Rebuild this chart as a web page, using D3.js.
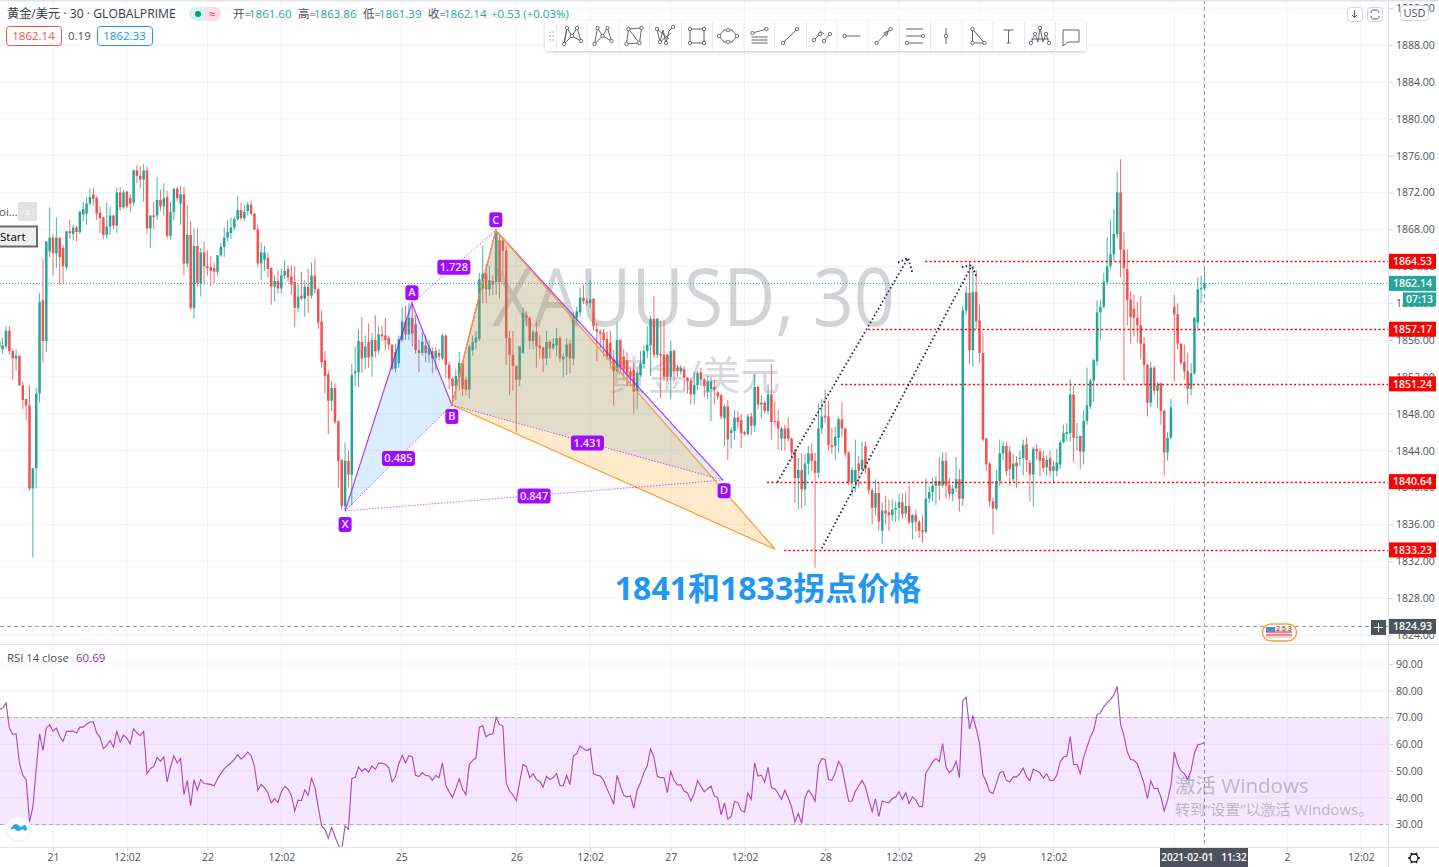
<!DOCTYPE html>
<html><head><meta charset="utf-8">
<script src="https://cdn.jsdelivr.net/npm/d3@7/dist/d3.min.js"></script>
<style>
html,body{margin:0;padding:0;background:#fff;overflow:hidden}
svg{display:block}
text{font-family:"Open Sans","Noto Sans CJK SC",sans-serif}
</style></head><body><svg id="c" width="1439" height="867"></svg>
<script>
const opens=[1855.8,1855,1855.3,1857,1854.8,1854,1854.3,1851.1,1849.6,1848.9,
1839.9,1842.1,1850.2,1860.3,1855.9,1865.6,1867.1,1865.4,1867.1,1866,
1863.9,1867.8,1867.5,1868.2,1867.7,1869.6,1869.7,1870.8,1871.8,1871.4,
1869.8,1869.3,1867.4,1868.3,1869.5,1868.4,1872,1870.4,1872.1,1871.4,
1870.9,1874.4,1873.8,1873.4,1874.4,1868.1,1869.5,1869.5,1871.2,1870.5,
1871.5,1867.3,1869.9,1872.4,1870.8,1871.8,1864.3,1867.4,1859.5,1866.2,
1862.1,1865.5,1864,1863.9,1863.8,1863.4,1865.2,1866.1,1867.1,1867.6,
1868.2,1869.1,1870.1,1869.2,1870,1870.7,1869.7,1868,1864.3,1864.7,
1864.9,1863.8,1861.8,1862.4,1861.6,1863,1863.7,1862.9,1862.3,1859.5,
1860.8,1860.5,1861.8,1860.8,1863,1861.5,1858,1853.8,1852.3,1849.4,
1850.8,1847.2,1843,1838,1842.9,1841.4,1852.4,1852.5,1855.8,1854.1,
1855.8,1854.2,1856,1854.9,1856.6,1856.5,1856.2,1855.5,1852.9,1853.5,
1856,1858,1856.6,1858.4,1857.7,1854.9,1854.6,1855.4,1854.4,1854.8,
1854,1854.6,1854,1856.5,1853.3,1851.8,1851,1852,1853.5,1851.7,
1850.6,1854.9,1855.7,1856.1,1861.6,1863.2,1861.5,1862.4,1862.3,1866.8,
1866.8,1865.7,1856.2,1854.4,1853.2,1851.7,1854.6,1858.7,1858.4,1855.9,
1856.9,1855.4,1855.2,1854,1855.8,1855.1,1855.4,1856.2,1853.9,1854.2,
1855.6,1854,1858.4,1859,1860.6,1860.2,1860,1860.5,1857.2,1856.9,
1856.8,1856.1,1855.7,1853.9,1852.6,1856,1854.2,1853.8,1852.6,1852.8,
1850.4,1852.2,1853.4,1854.8,1855.4,1858.3,1854.4,1854.5,1854.4,1854.4,
1852,1854.8,1853,1852.6,1852.8,1851.9,1851.6,1850.1,1851.1,1852.5,
1851.7,1850.4,1850.7,1850.9,1850.3,1850,1847.5,1848.8,1845.9,1846.1,
1847.6,1847.3,1846,1845.8,1847.7,1846.7,1850.9,1849,1849.2,1848.3,
1850.1,1847.2,1847.2,1845.3,1846.4,1846.4,1845.3,1843.9,1841,1841.9,
1839.8,1842.6,1843.7,1842.9,1841.6,1846.4,1847.8,1847.7,1844.6,1844.5,
1845.4,1847.4,1846.4,1843.8,1840.6,1840.6,1842.6,1842,1844.5,1842.1,
1839.7,1837.8,1839.4,1835.3,1837.5,1837.3,1837,1837.6,1837.8,1838.4,
1837.2,1838,1836.2,1837,1836.3,1835.4,1835.2,1838.8,1839.5,1840.2,
1840.7,1840.2,1842.9,1840.3,1839.3,1839.9,1840.9,1838.8,1859.2,1861.1,
1854.9,1861.2,1858.1,1854.6,1845.3,1842.6,1838.5,1837.7,1840.7,1843.7,
1844.5,1843.9,1840.9,1842.7,1843.1,1843.2,1844.7,1842.7,1841.4,1844.2,
1843.9,1843.2,1842.2,1843.2,1841.8,1841.8,1842.5,1844.9,1845.8,1845.9,
1850.1,1845.4,1845.6,1843.9,1847.2,1848.8,1851.6,1853.7,1859,1859.6,
1862.3,1864,1865.3,1867.5,1872,1865.8,1863.7,1860.4,1859.4,1858.4,
1857.6,1855.6,1853.3,1849.2,1853,1850.5,1851.3,1848.3,1843.8,1845.4,
1859.6,1858.8,1855.6,1853.6,1852.6,1850.7,1852.4,1857.9,1861.5,1861.6];
const highs=[1856,1856.3,1857.5,1857.5,1855,1855,1854.3,1851.5,1849.6,1851.1,
1842.1,1850.8,1861.1,1864.8,1866.7,1870.4,1867.5,1869.3,1867.1,1866.3,
1867.8,1869,1868.5,1868.4,1870,1871,1871.5,1872.4,1872.5,1871.6,
1870.5,1869.4,1870.9,1870.5,1869.6,1872.5,1872.6,1872.3,1872.2,1871.8,
1874.5,1875,1874.9,1875.1,1874.8,1869.5,1871,1873.7,1872.3,1873,
1872.2,1871,1872.5,1872.6,1872.7,1872.6,1870.6,1868.9,1868.1,1868.1,
1866,1866.7,1865.7,1865.1,1864.4,1865.2,1866.5,1868.2,1869,1869.3,
1869.4,1871.6,1870.9,1870.6,1871,1871.1,1869.8,1868.5,1866.6,1866.2,
1865.5,1863.9,1863,1863.6,1863.7,1864.7,1864.1,1864.1,1864,1862.1,
1863.4,1862.5,1863.7,1864.4,1864.8,1861.7,1859.2,1854.8,1852.7,1851.5,
1851.3,1847.3,1843,1844.9,1844,1853.4,1855.3,1857.2,1858.5,1856.5,
1857.8,1856.8,1858.7,1857.5,1857.5,1858.4,1856.5,1855.5,1855.6,1856.5,
1859.5,1859.7,1860,1859.9,1858.7,1856,1856.8,1856.5,1856,1855.2,
1855.2,1855,1856.7,1856.6,1853.6,1852,1852.9,1854.7,1853.6,1852,
1855.5,1856.5,1857,1863.3,1866.2,1864.3,1864,1863,1868,1867.5,
1867,1866.2,1857,1857,1853.2,1855.3,1859.5,1859.1,1858.6,1857.1,
1858,1856.5,1855.3,1857,1856,1856.2,1857.3,1856.4,1854.6,1856.2,
1856,1859,1859.6,1861.7,1862,1860.5,1862.5,1860.5,1857.9,1857.2,
1857.2,1856.9,1857,1854.9,1857.9,1856.1,1855,1854.7,1853,1853.6,
1852.9,1854.8,1855.4,1857.5,1858.6,1860.8,1858.4,1858.1,1858.1,1854.5,
1855.9,1855,1853.3,1853.3,1853.2,1852,1851.9,1852.6,1852.6,1853,
1851.9,1852.1,1852,1851.7,1850.5,1850.2,1849,1849.5,1846.5,1848.4,
1848.3,1848,1846.1,1848,1848.1,1852.3,1851,1850,1849.4,1851.2,
1853.4,1849.3,1848.4,1846.6,1846.8,1847.6,1845.4,1844.2,1843.2,1843.7,
1843.6,1844.5,1844.8,1843.8,1849.2,1849.6,1850.6,1849.4,1846.5,1846.6,
1847.6,1849.3,1846.5,1843.9,1842.2,1845.2,1843.4,1845,1845,1842.2,
1839.9,1840.9,1840.5,1838.4,1839.1,1838.7,1838.7,1838.5,1839.3,1839.4,
1839.5,1840.2,1837.1,1837.6,1836.5,1837,1841,1840.1,1841.1,1841.2,
1843.3,1843.8,1843.8,1841,1840.3,1843.3,1842,1859.7,1861.8,1864.4,
1864,1863.6,1859.8,1856.8,1845.4,1842.8,1838.9,1841.9,1845.2,1845,
1845,1844.5,1843.7,1843.4,1844,1845.2,1845.4,1843,1844.4,1844.7,
1844.3,1844,1843.5,1844,1842.8,1844.2,1845.1,1846.8,1847,1851.7,
1851,1847,1845.6,1848.4,1853,1851.8,1854,1860.3,1860.3,1863.3,
1867.2,1869,1870.2,1874.2,1875.6,1867.7,1865.8,1861.3,1860.9,1860.1,
1860.8,1856.3,1853.4,1853.6,1853.2,1851.4,1851.4,1848.5,1846,1849.6,
1860.9,1860,1855.7,1855.5,1854.6,1853.5,1858.5,1862.8,1863,1863.86];
const lows=[1855,1854.5,1855,1854.4,1851.7,1852.7,1851,1848.5,1847.3,1839.7,
1832.4,1839.9,1849.2,1853.6,1854.7,1865,1863,1863.8,1862,1862.1,
1863.6,1867,1866.8,1866.7,1867.5,1868.9,1868.5,1870.6,1870.6,1869,
1867.6,1867,1867,1867.4,1868,1867.6,1870,1870.2,1870.3,1869.9,
1870.6,1873,1872.5,1871,1867.5,1866,1868,1869,1870,1869.5,
1867,1866.9,1869,1871,1868.5,1863,1863.9,1859.2,1858.3,1861.8,
1860.7,1862,1863,1861.8,1862.2,1863,1865,1865,1866.7,1867,
1867.9,1869,1869,1868.9,1869.5,1869.5,1867.9,1863.9,1862.5,1863.5,
1862.8,1859.8,1860.2,1861,1861,1862.6,1862.3,1860.9,1857.4,1859,
1860.3,1858.5,1858.9,1860.5,1861,1857.2,1853,1850.2,1845.8,1848.3,
1846.9,1840,1837.6,1837.5,1840,1838,1851,1850.9,1852.4,1852.8,
1853,1852,1854.1,1854.5,1855.9,1854.9,1854.9,1852.7,1852.5,1853,
1855.8,1856,1856,1855.3,1854.5,1852.5,1854.3,1853.6,1853.5,1852.4,
1852.7,1853.8,1853.8,1851.9,1850.7,1849.4,1849.5,1850.5,1849.9,1850,
1849.7,1854.3,1855,1855.9,1860,1860,1860.8,1860.9,1860.9,1860.5,
1863,1853.3,1850,1850.5,1846,1851,1854.5,1857.5,1855,1855,
1853,1854,1852.5,1853.3,1854,1854.9,1854.2,1853.6,1851.9,1852.2,
1852.4,1853.3,1857.7,1858.5,1859.9,1859.7,1859.5,1857,1853.7,1855.1,
1854.2,1853.8,1853.2,1848.9,1852.5,1852.4,1851.8,1851,1851,1848,
1848.5,1852,1853,1854,1852.1,1854,1854,1849.7,1851.5,1851.5,
1849.6,1851.5,1852,1852.2,1850.5,1850.2,1849,1849,1850.5,1851,
1849.8,1849.6,1847.2,1849,1849.5,1847.4,1844.5,1843,1844.2,1845.2,
1846.4,1844.3,1845.6,1845.6,1845.7,1846,1848.5,1847.5,1848,1847.9,
1845.2,1846.7,1844.1,1844,1844,1845,1843,1838.3,1837.6,1837.7,
1838,1841.4,1841.8,1831.3,1841,1845.8,1847,1844,1843.7,1843,
1843.8,1845.5,1843.3,1840.2,1839,1839.5,1840,1841.6,1841.5,1839.2,
1836,1837,1835.3,1833.9,1836,1835.3,1836.4,1836.3,1836.4,1836.6,
1836.7,1836,1834.4,1835.2,1834.5,1834,1835,1838.3,1838.5,1838.1,
1838.6,1840,1838.8,1838.8,1838.5,1839.5,1837.4,1838,1858.7,1853.4,
1853.1,1857.2,1853.5,1845,1841.8,1837.9,1834.9,1837.5,1840.2,1843,
1841.2,1840.2,1840.5,1840,1842.4,1841.3,1841.7,1838.5,1837.9,1843,
1841.2,1841.7,1841.3,1841.2,1840.5,1841.2,1842,1844.8,1845,1845,
1842.7,1844,1842,1842.5,1846.8,1848.5,1849.3,1853.2,1856.1,1859.4,
1862,1863.7,1864.6,1867,1862.8,1851.6,1857.6,1855.6,1856.4,1855.7,
1853.9,1851.1,1847.7,1848.7,1850,1848.7,1846.8,1841.3,1842.9,1845.2,
1851.5,1855,1853.3,1851.7,1849,1850,1852.2,1857,1860,1861.39];
const closes=[1855.2,1855.4,1857,1854.8,1854,1854.3,1851.1,1849.5,1848.9,1839.9,
1842.1,1850.2,1860.1,1855.9,1866.7,1867.1,1865.4,1867.1,1865,1864,
1867.8,1867.6,1868.2,1867.7,1869.9,1870.2,1870.8,1871.5,1871.3,1869.7,
1869.2,1867.4,1868.3,1869.5,1868.4,1872,1870.4,1872,1870.5,1870.8,
1874.4,1873.8,1873.4,1874.4,1868.1,1869.5,1869.3,1871.2,1870.5,1871.4,
1867.3,1869.9,1872.4,1871.4,1871.8,1864.3,1867.4,1859.5,1866.2,1862.2,
1865.5,1864,1863.8,1863.5,1863.4,1865.2,1866.1,1867.1,1867.7,1868.2,
1869.1,1870.1,1869.2,1869.9,1870.7,1869.7,1868,1864.3,1865.5,1865.5,
1863.7,1861.8,1862.4,1861.6,1863,1863.5,1862.8,1862,1859.5,1860.7,
1860.5,1861.8,1860.8,1863,1861.5,1857.9,1853.6,1852.1,1849.4,1850.8,
1847.1,1842.9,1838,1842.9,1841.4,1852.2,1852.6,1855.9,1854,1855.3,
1854.1,1856,1854.8,1856.6,1856.4,1856,1855.5,1852.9,1854.7,1856.1,
1858,1856.6,1858.4,1856.7,1854.9,1854.6,1855.8,1854.6,1855.1,1854,
1854.8,1854.2,1856.5,1853.3,1851.8,1851,1852.1,1853.5,1850.7,1850.6,
1855.3,1855.8,1856.3,1862.6,1863.2,1861.5,1862.5,1862,1867.6,1862.3,
1865.7,1856.2,1854.4,1853.2,1851.7,1855.3,1858.9,1858.4,1855.9,1856.9,
1855.3,1855.1,1854,1855.8,1855.1,1855.6,1856.2,1854,1854.2,1855.5,
1854,1858.4,1859.1,1860.6,1860.2,1860,1860.4,1857.5,1856.9,1856.7,
1856,1854.2,1853.9,1852.6,1856,1853.1,1852.8,1852.4,1852,1850.4,
1852.4,1853.5,1854.8,1855.5,1858.3,1854.4,1858.3,1854.3,1852,1852,
1854.8,1852.6,1852.6,1853,1851.9,1851.5,1850.1,1851.1,1852.4,1851.7,
1851,1851.5,1851.5,1850.6,1849.9,1847.7,1848.8,1845.2,1846.2,1847.6,
1847.1,1845.9,1845.8,1847.7,1846.7,1850.9,1849,1849.2,1848.3,1850.1,
1847.1,1847.1,1846.4,1846.4,1845.3,1845.3,1843.8,1841,1841.9,1839.8,
1842.6,1843.7,1842.9,1841.6,1846.4,1847.7,1847.6,1844.6,1844.4,1845.5,
1847.4,1846.4,1843.7,1840.6,1841.9,1841.9,1841.8,1843,1842,1839.7,
1837.8,1839.4,1836.3,1837.5,1837.2,1837,1837.6,1837.8,1838.4,1837.1,
1838,1836.2,1837,1836.3,1835.3,1835.2,1838.8,1839.5,1840.2,1840.7,
1840.2,1842.9,1840.2,1839.3,1839.9,1840.9,1838.8,1859.2,1861.1,1854.9,
1861.2,1858,1854.6,1845.2,1842.5,1838.5,1837.7,1840.7,1843.7,1844.5,
1841.8,1842,1842.6,1842.3,1843.2,1844.6,1843,1841.4,1844.2,1843.9,
1842.9,1842.1,1843,1841.8,1842.3,1842.7,1844.9,1845.9,1846,1850.1,
1845.4,1845.5,1843.9,1847.2,1848.9,1851.6,1853.8,1859,1859.6,1862.3,
1864,1865.3,1867.5,1872,1865.8,1863.8,1860.3,1858.5,1858.4,1857.6,
1855.6,1853.3,1849.2,1853,1850.5,1851.1,1848.3,1843.8,1845.4,1848.7,
1858.8,1855.6,1853.5,1852.6,1850.7,1852.4,1858.4,1861.5,1861.65,1862.14];
const rsi=[72.9,73.5,75.5,66.1,63.7,63.9,53,48.4,46.8,31,
36.6,50.9,63.9,57.7,66.1,67.3,64.9,66,63,61,
64.8,64.8,64.9,64.2,66.4,66.4,67.5,68.3,68.4,64.2,
62.7,58.3,59.6,61.4,58.9,64.8,60.8,63.4,62.3,60.2,
65.8,64.2,63.2,64.8,49,50.9,51.7,55,53.7,55.2,
45.9,51.5,55.7,53,54.7,41.2,46.5,37,46.8,42.8,
46.8,45.3,45.2,45,44.5,47.1,49,50.9,52,53,
54.3,56.1,54.5,55.5,57.1,55.8,51.7,42.8,45,43.8,
41.8,38.1,39.7,38.3,42.2,44.2,43.2,40.9,35,39.1,
38.9,43,40.9,47.3,44,36.6,29.5,28.1,24.8,28.9,
25.4,22.3,20.4,29.5,28.3,47.1,47.6,51.5,49.9,50.9,
49.5,51.9,50.6,53,52.9,52.5,51.2,46,47.8,52.7,
55.8,53,55.7,55.3,48.4,47.9,49.4,48.3,48.2,46.5,
48.3,47.5,53.1,44.7,42.2,40.2,43.4,47.1,43.2,41.2,
52.5,54,55,66.4,
66.9,62.8,63.7,63.8,70.1,67.4,66.8,45.5,42.5,41.1,
38.9,45.9,52.4,51.7,47.5,49,46.8,46.1,44,48,
46.8,47.5,49,44.5,44.5,48.4,44.9,55.6,56.5,59.4,
58.3,57.6,58.4,49,48.4,48.1,46.5,43.4,40.7,37.6,
48.4,44.4,40.9,40.3,40.7,36.1,42.8,45.7,49.4,51.9,
58.3,55.2,48,47.5,47.6,41.9,49.8,46.5,44.7,44.9,
42.5,41.8,38.8,41.6,46.4,44.3,42.2,43.4,44.3,40.6,
40.1,33.6,38.1,32,32.9,38.7,38.1,35.1,34.7,41.8,
39.3,53.1,48.1,48.4,45.8,51.4,43.7,43.4,41.6,39.4,
42.8,39.9,36.6,31,34.1,30.4,40.1,42.8,41.3,38.7,
52,54.6,54.3,46.8,46.5,49.3,53.6,51.5,45,38.7,
38.8,42.4,44.4,46.5,44,39.1,34.8,39.6,32.9,38.8,
38.3,38.2,39.7,40.3,42.2,39.4,41.9,37.8,40.3,39.1,
36.8,36.6,49.3,51.2,53.4,54.7,53.5,60.2,51.5,49.4,
50.6,53.6,47.5,
76.3,77.6,65.8,70.5,65.8,60.2,48.6,45.9,42.2,41.6,
45.3,49.3,49.8,46.5,45.9,47.8,47.8,49,51.1,47.8,
46.3,50.7,50,49.3,47.4,49,46.4,46.5,48.4,53.4,
55.2,55.5,62.9,52.4,52.5,49,55.2,58.9,62.7,65.2,
71,71.7,74.1,75.5,76.7,78.4,81.6,67.4,63.3,57.1,
54.3,54,52.7,49,45.3,39.7,46.3,43.3,43.7,40.3,
35.1,39.1,44.7,57.1,52.5,50,49,46.8,50.2,56.7,
59.8,60.1,60.69];
const priceTicks=[1892,1888,1884,1880,1876,1872,1868,1864,1860,1856,1852,1848,1844,1840,1836,1832,1828,1824];
const rsiTicks=[90,80,70,60,50,40,30];
const timeTickBars=[16,38,62,84,119.7,154,176,200,222,246,268,292,314,350,383.6,405.6];
const timeTickLabels=["21","12:02","22","12:02","25","26","12:02","27","12:02","28","12:02","29","12:02","1","2","12:02"];
const levelPrices=[1864.53,1857.17,1851.24,1840.64,1833.23];
const levelStartBars=[275.8,258.8,250.7,228.7,233.8];
const patternNames=["X","A","B","C","D"];
const patternBars=[103,122.9,134.8,147.9,215.6];
const patternPrices=[1837.46,1860,1848.95,1867.9,1840.8];
const projectionBar=231.1, projectionPrice=1833.3;
const ratioLabels=["1.728","0.485","1.431","0.847"];

const W=1439,H=867,AX=1388,TOP=644,BOT=847;
const x=d3.scaleLinear().domain([0,359]).range([-0.7,1204.5]);
const y=d3.scaleLinear().domain([1888,1824]).range([45,635]);
const yr=d3.scaleLinear().domain([90,30]).range([664,824.5]);
const svg=d3.select("#c");
const defs=svg.append("defs");
defs.append("clipPath").attr("id","pc").append("rect").attr("width",AX).attr("height",TOP);
defs.append("clipPath").attr("id","rc").append("rect").attr("y",TOP).attr("width",AX).attr("height",BOT-TOP);
const f=defs.append("filter").attr("id","sh").attr("x","-5%").attr("y","-30%").attr("width","110%").attr("height","170%");
f.append("feDropShadow").attr("dx",0).attr("dy",1).attr("stdDeviation",1.5).attr("flood-color","#000").attr("flood-opacity",.22);

const GRID="#f0f3fa",TXT="#4c525e",GREEN="#26a69a",RED="#ef5350",VIO="#9900ff";
// grid
const grid=svg.append("g");
grid.selectAll(".v").data(timeTickBars).join("line").attr("x1",d=>x(d)).attr("x2",d=>x(d)).attr("y1",0).attr("y2",BOT).attr("stroke",GRID);
grid.selectAll(".h").data(priceTicks).join("line").attr("x1",0).attr("x2",AX).attr("y1",d=>y(d)).attr("y2",d=>y(d)).attr("stroke",GRID).attr("clip-path","url(#pc)");
grid.selectAll(".r").data(rsiTicks).join("line").attr("x1",0).attr("x2",AX).attr("y1",d=>yr(d)).attr("y2",d=>yr(d)).attr("stroke",GRID);

// watermark
svg.append("text").attr("x",492).attr("y",326).attr("font-size",81).attr("textLength",403).attr("lengthAdjust","spacingAndGlyphs").attr("fill","rgba(120,123,134,.33)").text("XAUUSD, 30");
svg.append("text").attr("x",608).attr("y",390).attr("font-size",40).attr("textLength",172).attr("lengthAdjust","spacingAndGlyphs").attr("fill","rgba(120,123,134,.3)").text("黄金/美元");

// candles
const bars=d3.range(closes.length);
const pane=svg.append("g").attr("clip-path","url(#pc)");
const col=i=>closes[i]>=opens[i]?GREEN:RED;
pane.append("g").selectAll("line").data(bars).join("line").attr("x1",i=>x(i)).attr("x2",i=>x(i)).attr("y1",i=>y(highs[i])).attr("y2",i=>y(lows[i])).attr("stroke",col).attr("stroke-width",.85);
pane.append("g").selectAll("rect").data(bars).join("rect").attr("x",i=>x(i)-1.25).attr("width",2.5).attr("y",i=>y(Math.max(opens[i],closes[i]))).attr("height",i=>Math.max(.8,Math.abs(y(opens[i])-y(closes[i])))).attr("fill",col);

// current price line
pane.append("line").attr("x1",0).attr("x2",AX).attr("y1",y(closes[359])).attr("y2",y(closes[359])).attr("stroke",GREEN).attr("stroke-width",1).attr("stroke-dasharray","1 2");

// pattern
const P=i=>[x(patternBars[i]),y(patternPrices[i])];
const E=[x(projectionBar),y(projectionPrice)];
const line=d3.line();
pane.append("path").attr("d",line([P(0),P(1),P(2)])+"Z").attr("fill","rgba(33,150,243,.16)");
pane.append("path").attr("d",line([P(2),P(3),P(4)])+"Z").attr("fill","rgba(33,150,243,.16)");
pane.append("path").attr("d",line([P(0),P(1),P(2),P(3),P(4)])).attr("fill","none").attr("stroke",VIO).attr("stroke-opacity",.75).attr("stroke-width",1.2);
pane.append("path").attr("d",line([P(2),P(3),E])+"Z").attr("fill","rgba(255,152,0,.2)").attr("stroke","#ff9a2e").attr("stroke-width",1.2);
[[0,2],[1,3],[2,4],[0,4]].forEach(([a,b])=>pane.append("line").attr("x1",P(a)[0]).attr("y1",P(a)[1]).attr("x2",P(b)[0]).attr("y2",P(b)[1]).attr("stroke",VIO).attr("stroke-opacity",.6).attr("stroke-dasharray","1.5 1.5"));
function tag(cx,cy,t,w){const g=pane.append("g");g.append("rect").attr("x",cx-w/2).attr("y",cy-7).attr("width",w).attr("height",15).attr("rx",3).attr("fill",VIO).attr("fill-opacity",.95);
 g.append("text").attr("x",cx).attr("y",cy+4.3).attr("text-anchor","middle").attr("font-size",11).attr("font-weight",600).attr("fill","#f4e8ff").text(t);}
const tagDy=[13,-11,11,-11,10];
patternNames.forEach((n,i)=>tag(P(i)[0]+(i==4?1:0),P(i)[1]+tagDy[i],n,13));
const mid=(a,b)=>[(P(a)[0]+P(b)[0])/2,(P(a)[1]+P(b)[1])/2];
const ratioPts=[mid(1,3),mid(0,2),mid(2,4),mid(0,4)];
ratioLabels.forEach((t,i)=>tag(ratioPts[i][0],ratioPts[i][1],t,33));

// levels
levelPrices.forEach((p,i)=>{pane.append("line").attr("x1",x(levelStartBars[i])).attr("x2",AX).attr("y1",Math.round(y(p))+.5).attr("y2",Math.round(y(p))+.5).attr("stroke","#ff0000").attr("stroke-width",1.6).attr("stroke-dasharray","2 2.4");});

// dotted arrows (bar index, price)
function arrow(b0,p0,b1,p1,l,r){
 const p=[[b0,p0],[b1,p1]].map(d=>[x(d[0]),y(d[1])]);
 const a=[l,[b1,p1],r].map(d=>[x(d[0]),y(d[1])]);
 pane.append("path").attr("d",line(p)+line(a)).attr("fill","none").attr("stroke","#1f1e52").attr("stroke-width",1.8).attr("stroke-dasharray","1.5 2.5");}
arrow(231.8,1840.6,270.7,1864.9,[267.7,1864.4],[272,1863.3]);
arrow(245,1833.4,289.7,1864.1,[286.7,1863.9],[291,1862.9]);

// annotation
svg.append("text").attr("x",768).attr("y",600).attr("text-anchor","middle").attr("font-size",32).attr("font-weight",700).attr("fill","#2196f3").text("1841和1833拐点价格");

// RSI
const rp=svg.append("g").attr("clip-path","url(#rc)");
rp.append("rect").attr("x",0).attr("width",AX).attr("y",yr(70)).attr("height",yr(30)-yr(70)).attr("fill","rgba(153,21,255,.1)");
[70,30].forEach(v=>rp.append("line").attr("x1",0).attr("x2",AX).attr("y1",yr(v)).attr("y2",yr(v)).attr("stroke","#787b86").attr("stroke-opacity",.55).attr("stroke-dasharray","4 3"));
rp.append("path").attr("d",d3.line().x((d,i)=>x(i)).y(d=>yr(d))(rsi)).attr("fill","none").attr("stroke","#ab47bc").attr("stroke-width",1.1);

// windows watermark
svg.append("text").attr("x",1175).attr("y",793).attr("font-size",20.5).attr("fill","rgba(110,110,110,.42)").text("激活 Windows");
svg.append("text").attr("x",1175).attr("y",815).attr("font-size",15).attr("fill","rgba(110,110,110,.42)").text("转到“设置”以激活 Windows。");

// crosshair
svg.append("line").attr("x1",x(359)).attr("x2",x(359)).attr("y1",0).attr("y2",BOT).attr("stroke","#758696").attr("stroke-dasharray","4 3").attr("stroke-opacity",.85);
svg.append("line").attr("x1",0).attr("x2",AX).attr("y1",y(1824.93)).attr("y2",y(1824.93)).attr("stroke","#758696").attr("stroke-dasharray","4 3").attr("stroke-opacity",.85);

// panes borders
svg.append("rect").attr("width",W).attr("height",1.5).attr("fill","#e0e3eb");
svg.append("line").attr("x1",0).attr("x2",W).attr("y1",TOP+.5).attr("y2",TOP+.5).attr("stroke","#e0e3eb").attr("stroke-width",1.2);
svg.append("line").attr("x1",0).attr("x2",W).attr("y1",BOT+.5).attr("y2",BOT+.5).attr("stroke","#e0e3eb").attr("stroke-width",1.2);
svg.append("line").attr("x1",AX+.5).attr("x2",AX+.5).attr("y1",0).attr("y2",H).attr("stroke","#e0e3eb").attr("stroke-width",1.2);

// axes
function styleAxis(g){g.select(".domain").remove();g.selectAll("text").attr("font-size",10.5).attr("fill",TXT).attr("font-family",'"Open Sans",sans-serif');g.selectAll("line").attr("stroke","#d1d4dc");}
svg.append("g").attr("transform",`translate(${AX+1},0)`).call(d3.axisRight(y).tickValues(priceTicks).tickSize(4).tickPadding(3).tickFormat(d3.format(".2f"))).call(styleAxis);
svg.append("g").attr("transform",`translate(${AX+1},0)`).call(d3.axisRight(yr).tickValues(rsiTicks).tickSize(4).tickPadding(3).tickFormat(d3.format(".2f"))).call(styleAxis);
svg.append("g").attr("transform",`translate(0,${BOT})`).call(d3.axisBottom(x).tickValues(timeTickBars).tickSize(4).tickPadding(3).tickFormat((d,i)=>timeTickLabels[i])).call(styleAxis);

// right-side labels
function plabel(p,t,fill,x0=AX+1,w=47,h=15){const c=y(p);svg.append("rect").attr("x",x0).attr("y",c-h/2).attr("width",w).attr("height",h).attr("fill",fill);
 svg.append("text").attr("x",x0+w/2).attr("y",c+3.8).attr("text-anchor","middle").attr("font-size",10.5).attr("font-weight",600).attr("fill","#fff").text(t);}
levelPrices.forEach(p=>plabel(p,p.toFixed(2),"#ff0000"));
plabel(closes[359],closes[359].toFixed(2),GREEN);
plabel(1860.4,"07:13",GREEN,1403,33,14);
plabel(1824.93,"1824.93","#4c525e");
// plus button
svg.append("rect").attr("x",1371).attr("y",620).attr("width",15).attr("height",15).attr("fill","#4c525e");
svg.append("path").attr("d","M1378.5 623v9M1374 627.5h9").attr("stroke","#fff").attr("stroke-width",1);
// date label
svg.append("rect").attr("x",1160).attr("y",BOT+1).attr("width",88).attr("height",19).attr("fill","#4c525e");
svg.append("text").attr("x",1204).attr("y",861).attr("text-anchor","middle").attr("font-size",10).attr("font-weight",600).attr("fill","#fff").attr("xml:space","preserve").text("2021-02-01   11:32");

// legend
function t(x0,y0,s,fill,size=11.5){return svg.append("text").attr("x",x0).attr("y",y0).attr("font-size",size).attr("fill",fill).text(s);}
t(7,18,"黄金/美元 · 30 · GLOBALPRIME","#363a45",12.2);
svg.append("rect").attr("x",189).attr("y",7).attr("width",32).attr("height",14).attr("rx",7).attr("fill","#d9f0ee");
svg.append("path").attr("d","M205 7h9a7 7 0 0 1 0 14h-9z").attr("fill","#fbdde7");
svg.append("circle").attr("cx",198).attr("cy",14).attr("r",3).attr("fill","#089981");
t(209,18,"≈","#e91e63",11);
const ohlcLabels=["开=","高=","低=","收="],ohlcVals=["1861.60","1863.86","1861.39","1862.14"];
const oX=[233,298,363,428];
ohlcLabels.forEach((l,i)=>{t(oX[i],18,l,"#4c525e",11.5);t(oX[i]+16,18,ohlcVals[i],GREEN,11.5);});
t(491,18,"+0.53 (+0.03%)",GREEN,11.5);
function box(x0,w,s,c){svg.append("rect").attr("x",x0+.5).attr("y",26.5).attr("width",w).attr("height",19).attr("rx",3).attr("fill","#fff").attr("stroke",c);
 svg.append("text").attr("x",x0+w/2).attr("y",40).attr("text-anchor","middle").attr("font-size",11.5).attr("fill",c).text(s);}
box(6,55,"1862.14",RED);t(68,40,"0.19","#4c525e",11.5);box(97,55,"1862.33","#2196f3");
t(7,662,"RSI 14 close","#4c525e",11.3);t(76,662,"60.69","#9c27b0",11.5);

// left widget
svg.append("text").attr("x",-1).attr("y",216).attr("font-size",11.5).attr("fill","#555").text("oi...");
svg.append("rect").attr("x",18).attr("y",202).attr("width",19).attr("height",19).attr("fill","#e3e3e3");
svg.append("text").attr("x",27.5).attr("y",215).attr("text-anchor","middle").attr("font-size",9).attr("fill","#fff").text("x");
svg.append("rect").attr("x",-3).attr("y",226.5).attr("width",40).attr("height",20).attr("fill","#efefef").attr("stroke","#6b6b6b").attr("stroke-width",2);
svg.append("text").attr("x",0).attr("y",240.5).attr("font-size",11.5).attr("fill","#000").text("Start");

// TV logo
svg.append("circle").attr("cx",18.5).attr("cy",829).attr("r",12.5).attr("fill","#fff").attr("stroke","#eceef3");
svg.append("path").attr("d","M10 830c2-3 3-6 6-6s3 3 5 3 3-3 4-2 2 3 2 4l-1 2c-2-1-3-2-5-1s-3 2-5 0-3-1-6 0z").attr("fill","#2aa4f4");

// event flag
const fl=svg.append("g");
fl.append("rect").attr("x",1262.5).attr("y",624).attr("width",34).attr("height",17).attr("rx",8.5).attr("fill","#fff").attr("stroke","#f7a13a").attr("stroke-width",1.5);
fl.append("rect").attr("x",1266).attr("y",627).attr("width",26).attr("height",11).attr("fill","#f7d7d7");
fl.append("path").attr("d","M1266 632h26M1266 635h26").attr("stroke","#e04040").attr("stroke-width",1.2);
fl.append("rect").attr("x",1266).attr("y",627).attr("width",9).attr("height",5).attr("fill","#5b86c8");
fl.append("text").attr("x",1276).attr("y",631).attr("font-size",7).attr("fill","#444").attr("xml:space","preserve").text("2 5 3");

// top-right buttons
function btn(x0,w){svg.append("rect").attr("x",x0+.5).attr("y",7.5).attr("width",w).attr("height",14).attr("rx",3).attr("fill","#fff").attr("stroke","#d1d4dc");}
btn(1347,15);btn(1367,15);
svg.append("path").attr("d","M1354.5 10.5v7M1352 15l2.5 2.5 2.5-2.5").attr("fill","none").attr("stroke","#50535e");
svg.append("path").attr("d","M1371 13c0-2 1-3 3-3h2c2 0 3 1 3 3M1371 16c0 2 1 3 3 3h2c2 0 3-1 3-3").attr("fill","none").attr("stroke","#50535e");
svg.append("rect").attr("x",1400.5).attr("y",5.5).attr("width",28).attr("height",15).attr("rx",3).attr("fill","#fff").attr("stroke","#d1d4dc");
svg.append("text").attr("x",1414.5).attr("y",17).attr("text-anchor","middle").attr("font-size",11).attr("fill",TXT).text("USD");

// gear
const gear=svg.append("g").attr("transform","translate(1414,858)");
gear.append("circle").attr("r",4).attr("fill","none").attr("stroke","#131722").attr("stroke-width",1.3);
d3.range(6).forEach(k=>{const a=k*Math.PI/3;gear.append("line").attr("x1",3.8*Math.cos(a)).attr("y1",3.8*Math.sin(a)).attr("x2",5.8*Math.cos(a)).attr("y2",5.8*Math.sin(a)).attr("stroke","#131722").attr("stroke-width",1.8);});

// toolbar
const tb=svg.append("g");
tb.append("rect").attr("x",545).attr("y",21).attr("width",541).attr("height",30).attr("rx",3).attr("fill","#fff").attr("filter","url(#sh)");
const tbX=[572,602.5,634.5,665,697,728,759.5,790,822,852.5,883.5,915,946,977.5,1008.5,1040,1071];
tbX.forEach(cx=>tb.append("line").attr("x1",cx-15.5).attr("x2",cx-15.5).attr("y1",22).attr("y2",50).attr("stroke","#e8eaf0"));
const ICONS=[
 "M-8 8L-5-8 0 0 5-8 9 5M-5-8L-8 8M0 0L9 5M-8 8L0 0",
 "M-8 8L-5-8 0 0 5-8 9 5M-8 8L0 0 9 5",
 "M-8 8L-6-7 7-8 5 7zM-6-7L5 7",
 "M-8-7L-5 6-2-6 1 7 4-5 8-9M-8-7L4 3M-5 6L6-3",
 "M-7-7H7V7H-7z",
 "M-9 0L-4-6H4L9 0 4 6H-4z",
 "M-7-3L7-7M-8 1H8M-8 4H8M-8 7H8",
 "M-7 7L7-7","M-8 4L-2-2M2 5L8-2M-2-5L2-2",
 "M-8 0H8","M-7 7L7-7M0-3L5-5 3 0z",
 "M-9-7H8M-9 0H8M-9 7H8","M0-8V8","M-5-7L-5 7 7 7z",
 "M-5-6H5M0-6V7M-2 7H2","M-9 7L-5-2-2 6 0-8 3 6 6-2 9 7M-9 3H9","M-8-6H8V6H-3L-8 10z"];
const VTX=[[[-8,8],[-5,-8],[5,-8],[9,5],[0,0]],[[-8,8],[-5,-8],[5,-8],[9,5],[0,0]],[[-8,8],[-6,-7],[7,-8],[5,7]],[[-8,-7],[-5,6],[1,7],[8,-9]],[[-7,-7],[7,-7],[7,7],[-7,7]],[[-9,0],[0,-6],[9,0],[0,6]],[[-7,-3],[7,-7]],[[-7,7],[7,-7]],[[-8,4],[-2,-2],[2,5],[8,-2]],[[-8,0]],[[-7,7],[7,-7]],[[8,0],[-8,7]],[[0,0]],[[-5,-7],[-5,7],[7,7]],[],[[-9,7],[0,-8],[9,7],[-5,-2],[6,-2]],[]];
ICONS.forEach((d,i)=>{const g=tb.append("g").attr("transform",`translate(${tbX[i]},36)`);
 g.append("path").attr("d",d).attr("fill","none").attr("stroke","#50535e").attr("stroke-width",.9);
 VTX[i].forEach(v=>g.append("circle").attr("cx",v[0]).attr("cy",v[1]).attr("r",1.7).attr("fill","#fff").attr("stroke","#50535e").attr("stroke-width",.8));});
d3.range(3).forEach(r=>[549,552].forEach(cx=>tb.append("rect").attr("x",cx).attr("y",31+r*4).attr("width",2).attr("height",2).attr("fill","#d8dae2")));
</script></body></html>
